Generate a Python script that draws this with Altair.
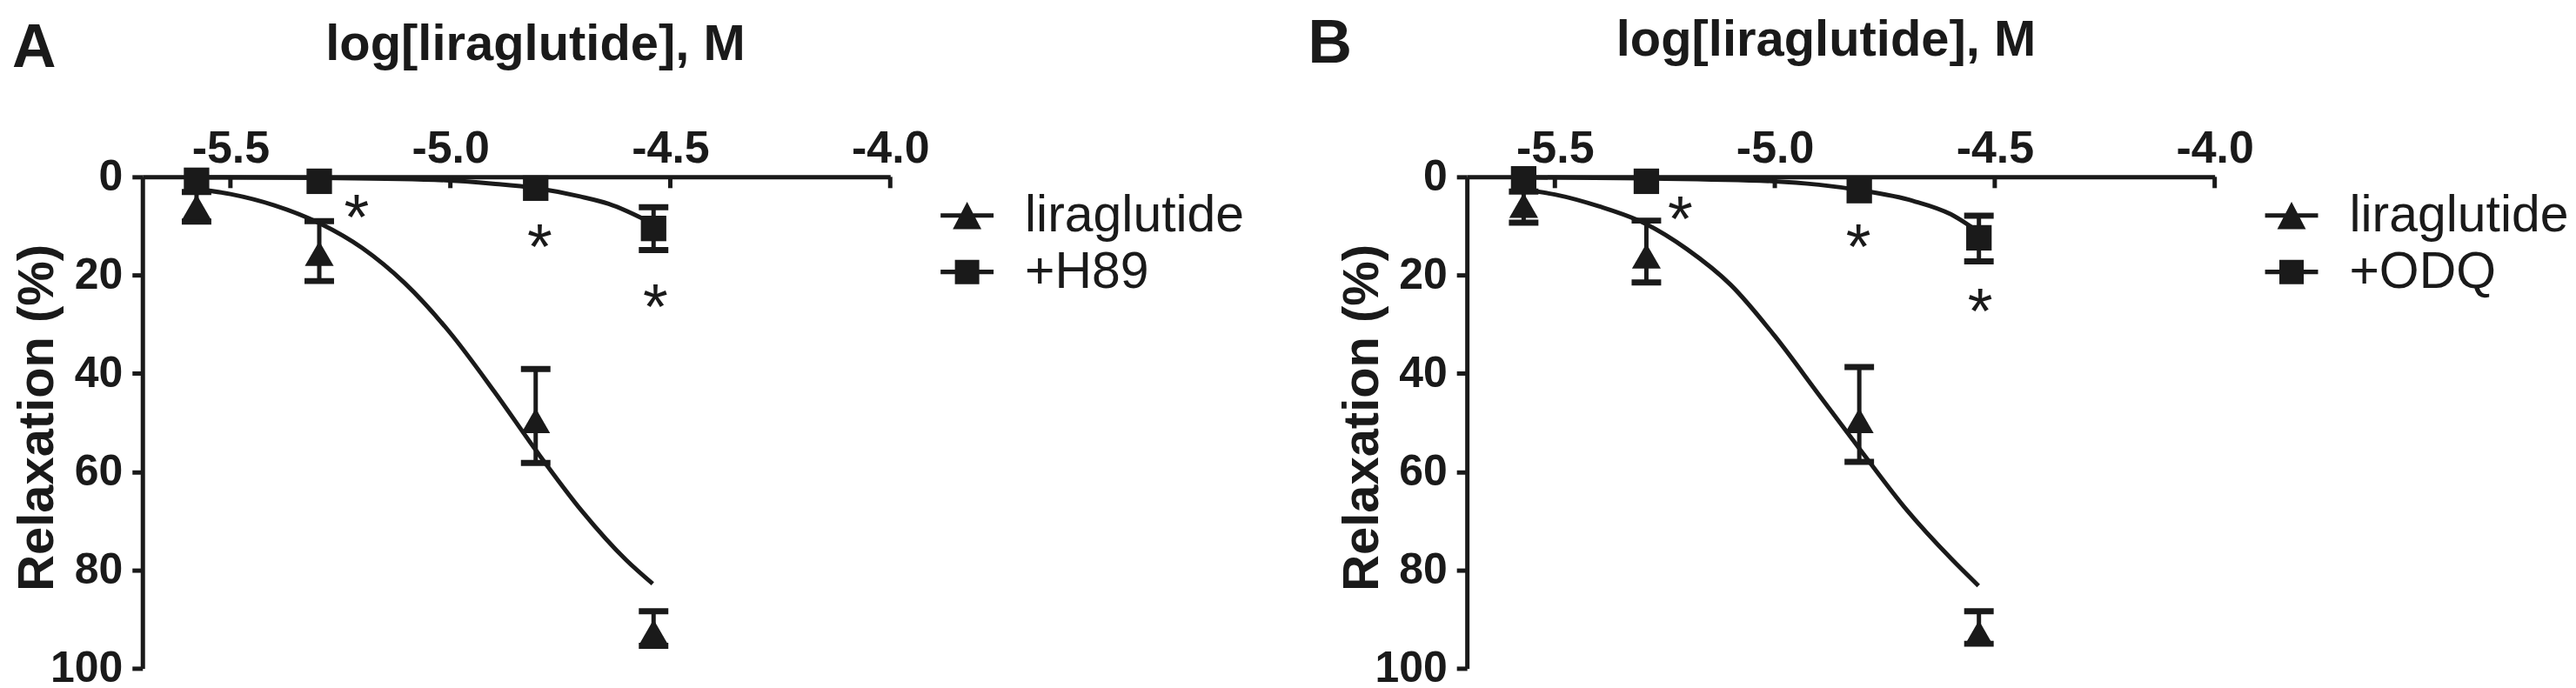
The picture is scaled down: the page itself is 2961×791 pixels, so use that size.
import altair as alt
import pandas as pd

FONT = "Liberation Sans"
INK = "#1a1a1a"

x_ticks = [-5.5, -5.0, -4.5, -4.0]
y_ticks = [0, 20, 40, 60, 80, 100]
series_names_a = ["liraglutide", "+H89"]
series_names_b = ["liraglutide", "+ODQ"]

# ---------------- Panel A ----------------
a_x = [-5.577, -5.298, -4.806, -4.538]
a_lira_y = [6.1, 15.6, 49.6, 92.6]
a_lira_lo = [3.1, 9.0, 39.1, 88.4]
a_lira_hi = [9.1, 21.2, 58.2, 95.4]
a_inh_y = [0.7, 0.9, 2.3, 10.5]
a_inh_lo = [0.7, 0.9, 2.3, 6.2]
a_inh_hi = [0.7, 0.9, 2.3, 14.9]
a_fit_lira_x = [-5.575, -5.5, -5.4, -5.296, -5.2, -5.104, -5.0, -4.9, -4.805, -4.7, -4.6, -4.54]
a_fit_lira_y = [2.5, 3.5, 5.8, 9.5, 14.5, 21.6, 31.8, 43.7, 55.7, 68.1, 78.0, 82.8]
a_fit_inh_x = [-5.577, -5.3, -5.036, -4.903, -4.806, -4.705, -4.64, -4.538]
a_fit_inh_y = [0.1, 0.2, 0.6, 1.4, 2.3, 4.0, 5.5, 9.6]
a_star_x = [-5.213, -4.797, -4.534]
a_star_y = [5.4, 11.4, 23.7]

# ---------------- Panel B ----------------
b_x = [-5.571, -5.292, -4.808, -4.536]
b_lira_y = [5.8, 16.1, 49.6, 92.8]
b_lira_lo = [3.0, 8.9, 38.7, 88.4]
b_lira_hi = [9.3, 21.5, 58.0, 95.0]
b_inh_y = [0.4, 0.9, 2.8, 12.4]
b_inh_lo = [0.4, 0.9, 2.8, 7.9]
b_inh_hi = [0.4, 0.9, 2.8, 17.2]
b_fit_lira_x = [-5.571, -5.5, -5.4, -5.295, -5.2, -5.1, -5.0, -4.9, -4.806, -4.7, -4.6, -4.537]
b_fit_lira_y = [2.6, 3.6, 6.0, 9.5, 14.7, 22.0, 32.4, 44.3, 55.5, 67.8, 77.6, 83.2]
b_fit_inh_x = [-5.571, -5.3, -5.0, -4.9, -4.808, -4.685, -4.6, -4.54]
b_fit_inh_y = [0.1, 0.3, 0.9, 1.6, 2.7, 4.9, 7.6, 11.0]
b_star_x = [-5.215, -4.81, -4.533]
b_star_y = [5.8, 11.4, 24.5]

# legend symbols: marker with a horizontal bar through it (filled shapes)
TRI_PATH = "M-1,-0.085H1V0.085H-1ZM0,-0.52L0.54,0.52L-0.54,0.52Z"
SQ_PATH = "M-1,-0.085H1V0.085H-1ZM-0.46,-0.46H0.46V0.46H-0.46Z"

W, H = 861, 566


def panel(letter, names, xs, ly, llo, lhi, iy, ilo, ihi, fx1, fy1, fx2, fy2, sx, sy,
          letter_x, letter_y, title_x, title_y):
    pts = pd.DataFrame({
        "x": xs + xs,
        "y": ly + iy,
        "lo": llo + ilo,
        "hi": lhi + ihi,
        "series": [names[0]] * len(xs) + [names[1]] * len(xs),
    })
    fits = pd.DataFrame({
        "x": fx1 + fx2,
        "y": fy1 + fy2,
        "series": [names[0]] * len(fx1) + [names[1]] * len(fx2),
    })
    stars = pd.DataFrame({"x": sx, "y": sy})
    ticks = pd.DataFrame({"t": x_ticks})
    lab = pd.DataFrame({"label": [letter]})

    xscale = alt.Scale(domain=[-5.7, -4.0], nice=False, zero=False)
    yscale = alt.Scale(domain=[0, 100], reverse=True, nice=False, zero=False)
    xaxis = alt.Axis(
        orient="top", values=x_ticks,
        labelExpr="datum.value < 0 ? '-' + format(-datum.value, '.1f') : format(datum.value, '.1f')",
        title="log[liraglutide], M", titleFont=FONT, titleFontSize=58, titleFontWeight="bold",
        titleColor=INK, titleX=title_x, titleY=title_y, titleBaseline="alphabetic", titleAlign="center",
        labelFont=FONT, labelFontSize=52, labelFontWeight="bold", labelColor=INK,
        labelBaseline="alphabetic", labelPadding=17, labelFlush=False, labelOverlap=False,
        ticks=False, tickSize=0, domainColor=INK, domainWidth=5, grid=False,
    )
    yaxis = alt.Axis(
        values=y_ticks, title="Relaxation (%)", titleFont=FONT, titleFontSize=58,
        titleFontWeight="bold", titleColor=INK, titleAngle=270, titleX=-103, titleY=277,
        titleBaseline="alphabetic", titleAlign="center",
        labelFont=FONT, labelFontSize=50, labelFontWeight="bold", labelColor=INK,
        labelPadding=11, tickSize=12, tickWidth=5, tickColor=INK,
        domainColor=INK, domainWidth=5, grid=False, labelOverlap=False,
    )

    X = alt.X("x:Q", scale=xscale, axis=xaxis)
    Y = alt.Y("y:Q", scale=yscale, axis=yaxis)

    curves = alt.Chart(fits).mark_line(color=INK, strokeWidth=5, interpolate="monotone").encode(
        x=X, y=Y, detail="series:N")

    xt = alt.Chart(ticks).mark_rule(color=INK, strokeWidth=5).encode(
        x=alt.X("t:Q", scale=xscale, axis=xaxis), y=alt.value(0), y2=alt.value(13))

    base_err = alt.Chart(pts).transform_filter("datum.hi > datum.lo")
    err = base_err.mark_rule(color=INK, strokeWidth=5).encode(
        x=X, y=alt.Y("lo:Q", scale=yscale, axis=yaxis), y2="hi:Q")
    cap_lo = base_err.mark_tick(color=INK, orient="horizontal", size=34, thickness=7, opacity=1).encode(
        x=X, y=alt.Y("lo:Q", scale=yscale, axis=yaxis))
    cap_hi = base_err.mark_tick(color=INK, orient="horizontal", size=34, thickness=7, opacity=1).encode(
        x=X, y=alt.Y("hi:Q", scale=yscale, axis=yaxis))

    tri = alt.Chart(pts).transform_filter(alt.datum.series == names[0]).mark_point(
        shape="triangle-up", filled=True, size=1100, opacity=1, color=INK).encode(x=X, y=Y)
    sq = alt.Chart(pts).transform_filter(alt.datum.series == names[1]).mark_point(
        shape="square", filled=True, size=860, opacity=1, color=INK).encode(x=X, y=Y)

    star = alt.Chart(stars).mark_text(text="*", font=FONT, fontSize=74, color=INK,
                                      baseline="middle", dy=19).encode(x=X, y=Y)

    letter_mark = alt.Chart(lab).mark_text(font=FONT, fontSize=70, fontWeight="bold", color=INK,
                                           align="left", baseline="alphabetic").encode(
        text="label:N", x=alt.value(letter_x), y=alt.value(letter_y))

    leg = alt.Chart(pts).mark_point(filled=True, opacity=0, color=INK).encode(
        x=X, y=Y,
        shape=alt.Shape("series:N", scale=alt.Scale(domain=names, range=[TRI_PATH, SQ_PATH]),
                        legend=alt.Legend(
                            orient="none", legendX=919, legendY=14, title=None,
                            labelFont=FONT, labelFontSize=59, labelColor=INK, labelFontWeight="normal",
                            labelOffset=36, rowPadding=4, symbolSize=3721, symbolOpacity=1,
                            symbolFillColor=INK, symbolStrokeWidth=0,
                            padding=0, labelLimit=0)))

    return alt.layer(curves, xt, err, cap_lo, cap_hi, tri, sq, star, letter_mark, leg).properties(
        width=W, height=H)


pA = panel("A", series_names_a, a_x, a_lira_y, a_lira_lo, a_lira_hi, a_inh_y, a_inh_lo, a_inh_hi,
           a_fit_lira_x, a_fit_lira_y, a_fit_inh_x, a_fit_inh_y, a_star_x, a_star_y,
           -150, -127, 452, -135)
pB = panel("B", series_names_b, b_x, b_lira_y, b_lira_lo, b_lira_hi, b_inh_y, b_inh_lo, b_inh_hi,
           b_fit_lira_x, b_fit_lira_y, b_fit_inh_x, b_fit_inh_y, b_star_x, b_star_y,
           -183, -132, 413, -140)

chart = alt.hconcat(pA, pB, spacing=664, bounds="flush").resolve_scale(
    shape="independent").resolve_legend(shape="independent").configure_view(
    stroke=None).properties(padding={"left": 6, "top": 7, "right": 0, "bottom": 0},
                            background="white")

chart.save("out.html", embed_options={"renderer": "svg", "actions": False})
